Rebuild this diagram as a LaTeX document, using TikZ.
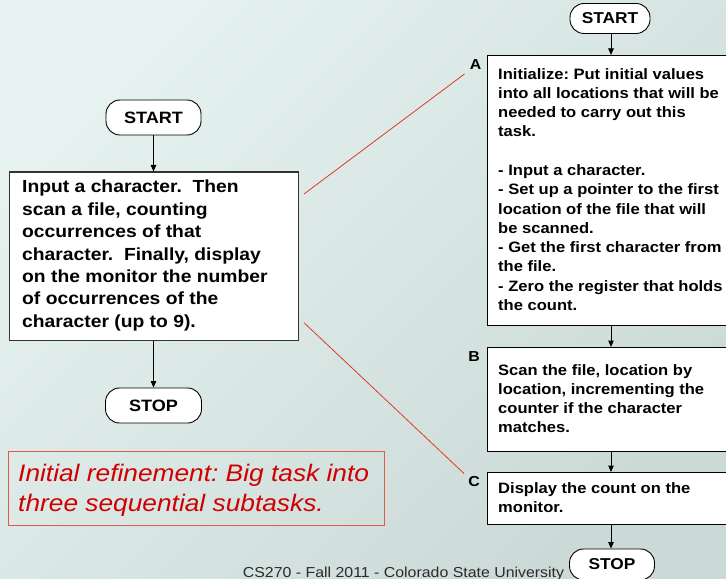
\documentclass[tikz,border=0pt]{standalone}
\usepackage{fontspec}
\setmainfont{Liberation Sans}[FakeStretch=1.1]
\usetikzlibrary{arrows.meta,calc}
\frenchspacing

\definecolor{bgTL}{HTML}{E5F2EF}
\definecolor{bgBR}{HTML}{CCDAD7}
\definecolor{noteRed}{HTML}{D00000}
\definecolor{noteFrame}{HTML}{E05A48}
\definecolor{linkRed}{HTML}{E03A24}
\definecolor{footGray}{HTML}{2A2A2A}

\tikzset{
  terminal/.style={draw=black, line width=0.9bp, fill=white, rounded corners=14bp,
    inner sep=0pt, font=\fontsize{16.5}{20}\selectfont\bfseries},
  stepbox/.style={draw=black, line width=1bp, fill=white, inner sep=0pt, anchor=north west},
  bigbox/.style={draw=black!80, line width=1.4bp, fill=white, inner sep=0pt, anchor=north west},
  bodytxt/.style={inner sep=0pt, anchor=north west, align=left,
    font=\fontsize{15.1}{19.35}\selectfont\bfseries},
  bigtxt/.style={inner sep=0pt, anchor=north west, align=left,
    font=\fontsize{17.6}{22.5}\selectfont\bfseries},
  steplabel/.style={inner sep=0pt, font=\fontsize{14.5}{16}\selectfont\bfseries},
  flow/.style={draw=black, line width=1bp, -{Triangle[length=6.5bp,width=5.5bp]}},
  zoomline/.style={draw=linkRed, line width=0.8bp},
}

\begin{document}
\begin{tikzpicture}[x=1bp, y=-1bp]
  \useasboundingbox (0,0) rectangle (726,579);
  \clip (0,0) rectangle (726,579);

  % slide background
  \shade[top color=bgTL, bottom color=bgBR, shading angle=45] (0,0) rectangle (726,579);

  % ---- overall task, left column ----
  \node[terminal, minimum width=95bp, minimum height=35bp] (startL) at (153.5,117.5) {START};
  \node[bigbox, minimum width=289bp, minimum height=168bp] (task) at (8.5,171.5) {};
  \node[bigtxt] (tasktxt) at (22,180) {Input a character.\ \ Then\\
    scan a file, counting\\
    occurrences of that\\
    character.\ \ Finally, display\\
    on the monitor the number\\
    of occurrences of the\\
    character (up to 9).};
  \node[terminal, minimum width=96bp, minimum height=35bp] (stopL) at (153.5,405.5) {STOP};

  \draw[flow] (startL.south) -- (startL.south |- task.north);
  \draw[flow] (startL.south |- task.south) -- (stopL.north);

  % ---- note ----
  \node[draw=noteFrame, line width=1bp, inner sep=0pt, anchor=north west,
        minimum width=376.5bp, minimum height=74.5bp] (note) at (7.5,450.8) {};
  \node[inner sep=0pt, anchor=north west, align=left, text=noteRed,
        font=\fontsize{24}{30}\selectfont\itshape] (notetxt) at (18,464.2)
        {Initial refinement: Big task into\\three sequential subtasks.};

  % ---- refined task, right column ----
  \node[terminal, minimum width=80bp, minimum height=30bp,
        font=\fontsize{15.8}{18}\selectfont\bfseries] (startR) at (610,18.5) {START};

  \node[stepbox, minimum width=250bp, minimum height=270bp] (A) at (487.3,55) {};
  \node[bodytxt] (Atxt) at (498,68) {Initialize: Put initial values\\
    into all locations that will be\\
    needed to carry out this\\
    task.\\[19.35bp]
    - Input a character.\\
    - Set up a pointer to the first\\
    location of the file that will\\
    be scanned.\\
    - Get the first character from\\
    the file.\\
    - Zero the register that holds\\
    the count.};

  \node[stepbox, minimum width=250bp, minimum height=104bp] (B) at (487.3,347) {};
  \node[bodytxt] (Btxt) at (498,364) {Scan the file, location by\\
    location, incrementing the\\
    counter if the character\\
    matches.};

  \node[stepbox, minimum width=250bp, minimum height=51.5bp] (C) at (487.3,472) {};
  \node[bodytxt] (Ctxt) at (498,482.3) {Display the count on the\\monitor.};

  \node[terminal, minimum width=85bp, minimum height=31bp,
        font=\fontsize{15.8}{18}\selectfont\bfseries] (stopR) at (612,564.5) {STOP};

  \node[steplabel] (labA) at (475.5,65) {A};
  \node[steplabel] (labB) at (474,357) {B};
  \node[steplabel] (labC) at (474,481.5) {C};

  \coordinate (spine) at (611,0);
  \draw[flow] (spine |- startR.south) -- (spine |- A.north);
  \draw[flow] (spine |- A.south) -- (spine |- B.north);
  \draw[flow] (spine |- B.south) -- (spine |- C.north);
  \draw[flow] (spine |- C.south) -- (spine |- stopR.north);

  % ---- refinement links ----
  \coordinate (linkTop) at (304,194);
  \coordinate (linkBot) at (304,322.7);
  \draw[zoomline] (linkTop) -- ($(labA)+(-11,9)$);
  \draw[zoomline] (linkBot) -- ($(labC)+(-10,-8)$);

  % ---- footer ----
  \node[inner sep=0pt, anchor=base west, text=footGray,
        font=\fontsize{14.5}{16}\selectfont] (footer) at (242.7,577.3)
        {CS270 - Fall 2011 - Colorado State University};
\end{tikzpicture}
\end{document}
